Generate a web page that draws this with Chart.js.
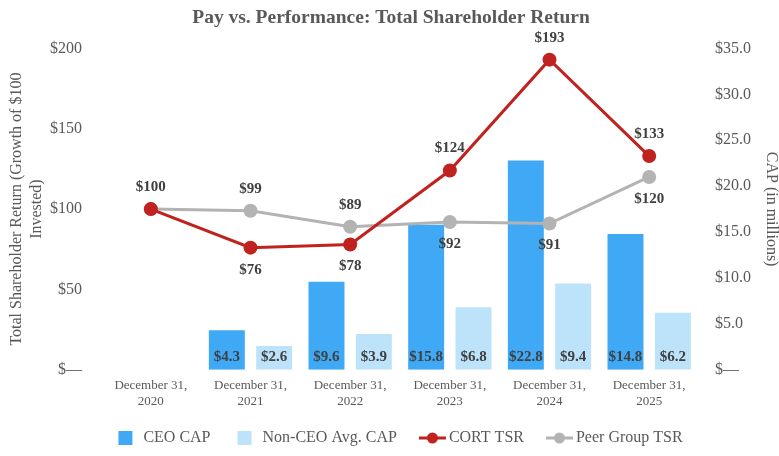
<!DOCTYPE html>
<html>
<head>
<meta charset="utf-8">
<script src="https://cdn.jsdelivr.net/npm/chart.js@4"></script>
<style>
html,body{margin:0;padding:0;background:#fff;}
#wrap{width:779px;height:456px;}
</style>
</head>
<body>
<div id="wrap"><canvas id="c" width="779" height="456"></canvas></div>
<script>
const categories = [["December 31,","2020"],["December 31,","2021"],["December 31,","2022"],["December 31,","2023"],["December 31,","2024"],["December 31,","2025"]];
const ceoCap = [null, 4.3, 9.6, 15.8, 22.8, 14.8];
const nonCeoCap = [null, 2.6, 3.9, 6.8, 9.4, 6.2];
const cortTsr = [100, 76, 78, 124, 193, 133];
const peerTsr = [100, 99, 89, 92, 91, 120];

// label placement (style, not data)
const cortLabelPos = ['above','below','below','above','above','above'];
const peerLabelPos = [null,'above','above','below','below','below'];

const FONT = "'Liberation Serif','Times New Roman',serif";
const GREY = '#595959';
const LABEL = '#404040';
const BLUE = '#3FA9F5';
const LIGHT = '#BDE3FB';
const RED = '#C0231F';
const PEER = '#B3B3B3';

function makeBox(color){
  const c = document.createElement('canvas'); c.width = 52; c.height = 16;
  const x = c.getContext('2d'); x.fillStyle = color; x.fillRect(27,1,14,14); return c;
}
function makeLine(color){
  const c = document.createElement('canvas'); c.width = 52; c.height = 16;
  const x = c.getContext('2d'); x.strokeStyle = color; x.lineWidth = 3;
  x.beginPath(); x.moveTo(22,8); x.lineTo(49,8); x.stroke();
  x.fillStyle = color; x.beginPath(); x.arc(35.5,8,5.5,0,Math.PI*2); x.fill(); return c;
}

const labelPlugin = {
  id: 'valueLabels',
  afterDatasetsDraw(chart){
    const ctx = chart.ctx;
    ctx.save();
    ctx.font = "bold 15px " + FONT;
    ctx.fillStyle = LABEL;
    ctx.textAlign = 'center';
    ctx.textBaseline = 'middle';
    chart.data.datasets.forEach((ds, di) => {
      const meta = chart.getDatasetMeta(di);
      meta.data.forEach((el, i) => {
        const v = ds.data[i];
        if (v === null || v === undefined) return;
        if (ds.type === 'bar') {
          ctx.fillText('$' + v.toFixed(1), el.x, el.base - 13);
        } else {
          const pos = ds.labelPos[i];
          if (!pos) return;
          const y = pos === 'above' ? el.y - 22 : el.y + 22;
          ctx.fillText('$' + v, el.x, y);
        }
      });
    });
    ctx.restore();
  }
};

new Chart(document.getElementById('c'), {
  data: {
    labels: categories,
    datasets: [
      { type:'line', label:'CORT TSR', data:cortTsr, yAxisID:'y', borderColor:RED, backgroundColor:RED,
        borderWidth:3, pointRadius:7, pointHoverRadius:7, pointBackgroundColor:RED, pointBorderWidth:0,
        tension:0, labelPos:cortLabelPos, order:1, legendImg: makeLine(RED), legendIndex:2 },
      { type:'line', label:'Peer Group TSR', data:peerTsr, yAxisID:'y', borderColor:PEER, backgroundColor:PEER,
        borderWidth:3, pointRadius:7, pointHoverRadius:7, pointBackgroundColor:PEER, pointBorderWidth:0,
        tension:0, labelPos:peerLabelPos, order:2, legendImg: makeLine(PEER), legendIndex:3 },
      { type:'bar', label:'CEO CAP', data:ceoCap, yAxisID:'y1', backgroundColor:BLUE,
        barPercentage:0.76, categoryPercentage:0.95, order:3, legendImg: makeBox(BLUE), legendIndex:0 },
      { type:'bar', label:'Non-CEO Avg. CAP', data:nonCeoCap, yAxisID:'y1', backgroundColor:LIGHT,
        barPercentage:0.76, categoryPercentage:0.95, order:4, legendImg: makeBox(LIGHT), legendIndex:1 }
    ]
  },
  options: {
    responsive:false,
    animation:false,
    layout:{ padding:{ top:6, left:3, right:0, bottom:0 } },
    plugins:{
      title:{ display:true, text:'Pay vs. Performance: Total Shareholder Return', color:GREY,
        font:{ family:FONT, size:19.5, weight:'bold' }, padding:{ top:0, bottom:19 } },
      legend:{ position:'bottom',
        labels:{ color:GREY, font:{ family:FONT, size:16, lineHeight:1 }, usePointStyle:true, pointStyleWidth:36, boxHeight:14, padding:8,
          generateLabels(chart){
            return chart.data.datasets.map((ds,i)=>({ text:ds.label, pointStyle:ds.legendImg, datasetIndex:i,
              fillStyle:'transparent', strokeStyle:'transparent', lineWidth:0, fontColor:GREY, hidden:false, idx:ds.legendIndex }))
              .sort((a,b)=>a.idx-b.idx);
          }
        } },
      tooltip:{ enabled:false }
    },
    scales:{
      x:{ grid:{ display:false }, border:{ display:false },
        afterFit(scale){ scale.height += 13; },
        ticks:{ color:GREY, font:{ family:FONT, size:13, lineHeight:1.2 }, maxRotation:0, padding:0 } },
      y:{ position:'left', min:0, max:200, grid:{ display:false }, border:{ display:false },
        afterFit(scale){ scale.width -= 10; },
        ticks:{ stepSize:50, color:GREY, font:{ family:FONT, size:16 }, padding:11,
          callback:v => v === 0 ? '$\u2014' : '$' + v },
        title:{ display:true, text:['Total Shareholder Return (Growth of $100','Invested)'], color:GREY,
          font:{ family:FONT, size:16, lineHeight:1.25 }, padding:{ top:4, bottom:2 } } },
      y1:{ position:'right', min:0, max:35, grid:{ display:false }, border:{ display:false },
        ticks:{ stepSize:5, color:GREY, font:{ family:FONT, size:16 }, padding:8,
          callback:v => v === 0 ? '$\u2014' : '$' + v.toFixed(1) },
        title:{ display:true, text:'CAP (in millions)', color:GREY, font:{ family:FONT, size:16, lineHeight:1 }, padding:{ top:0, bottom:4 } } }
    }
  },
  plugins:[labelPlugin]
});
</script>
</body>
</html>
